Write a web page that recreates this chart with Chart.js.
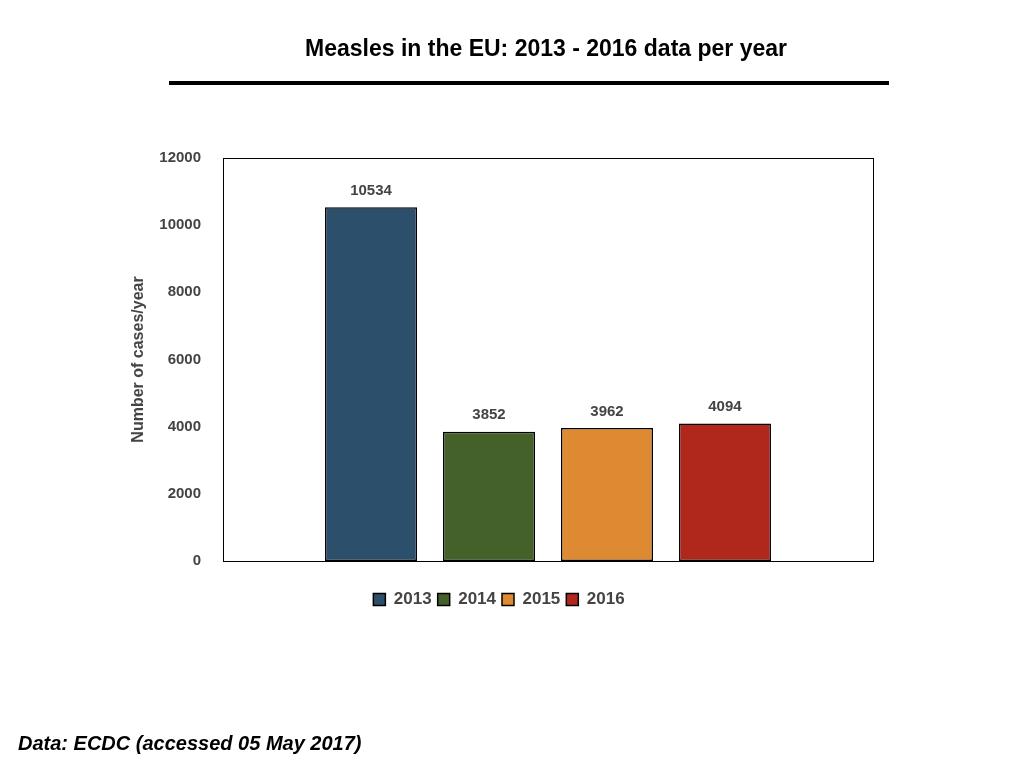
<!DOCTYPE html>
<html><head><meta charset="utf-8">
<script src="https://cdn.jsdelivr.net/npm/chart.js@4"></script>
<style>html,body{margin:0;padding:0;background:#fff}#c{display:block}</style>
</head><body>
<div style="width:1024px;height:768px"><canvas id="c" width="1024" height="768"></canvas></div>
<script>
const categories = [""];
const years = ["2013","2014","2015","2016"];
const cases = [10534, 3852, 3962, 4094];
const colors = ["#2c4f6b","#44612a","#de8a33","#b0271c"];
const yTicks = [0,2000,4000,6000,8000,10000,12000];
const FONT = "'Liberation Sans', Arial, sans-serif";

const deco = {
  id:'deco',
  afterDraw(chart){
    const {ctx, chartArea:a} = chart;
    ctx.save();
    ctx.strokeStyle='#000'; ctx.lineWidth=1;
    ctx.strokeRect(a.left+0.5,a.top+0.5,a.right-a.left,a.bottom-a.top);
    ctx.fillStyle='#000'; ctx.textAlign='center'; ctx.textBaseline='middle';
    ctx.font="bold 23px "+FONT;
    ctx.fillText("Measles in the EU: 2013 - 2016 data per year",546,50);
    ctx.lineWidth=4; ctx.beginPath(); ctx.moveTo(169,83); ctx.lineTo(889,83); ctx.stroke();
    ctx.textAlign='left'; ctx.font="italic bold 20px "+FONT;
    ctx.fillText("Data: ECDC (accessed 05 May 2017)",18,744);
    ctx.fillStyle='#444'; ctx.textAlign='center'; ctx.textBaseline='bottom';
    ctx.font="bold 15px "+FONT;
    chart.data.datasets.forEach((ds,i)=>{
      chart.getDatasetMeta(i).data.forEach((el,j)=>{
        ctx.fillText(String(ds.data[j]), el.x, el.y-9);
      });
    });
    ctx.restore();
  }
};

new Chart(document.getElementById('c'),{
  type:'bar',
  data:{labels:categories, datasets: years.map((y,i)=>({label:y,data:[cases[i]],backgroundColor:colors[i],borderColor:'#000',borderWidth:1.5,borderSkipped:false}))},
  options:{
    responsive:false, animation:false,
    layout:{padding:{left:125,right:151,top:158,bottom:150}},
    datasets:{bar:{categoryPercentage:0.726,barPercentage:0.78}},
    plugins:{
      legend:{position:'bottom',labels:{boxWidth:12,boxHeight:12,padding:6,color:'#444',font:{family:FONT,size:17,weight:'bold'}}},
      tooltip:{enabled:false}
    },
    scales:{
      x:{grid:{display:false},ticks:{display:false},border:{color:'#000'},afterFit(s){s.height=24;}},
      y:{min:0,max:12000,afterBuildTicks(s){s.ticks=yTicks.map(v=>({value:v}));},
         afterFit(s){s.width=98;},
         grid:{display:false},border:{color:'#000'},
         ticks:{color:'#444',padding:14,font:{family:FONT,size:15,weight:'bold'},callback:v=>String(v)},
         title:{display:true,text:'Number of cases/year',color:'#444',font:{family:FONT,size:16,weight:'bold'}}}
    }
  },
  plugins:[deco]
});
</script></body></html>
